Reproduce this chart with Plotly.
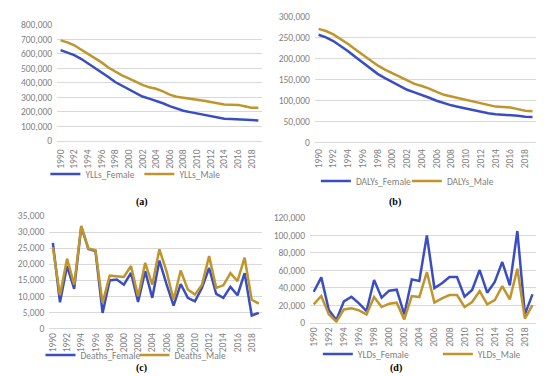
import plotly.graph_objects as go

years = list(range(1990, 2020))
even_years = [y for y in years if y % 2 == 0]

ylls_female = [625000, 610000, 590000, 565000, 535000, 505000, 472000, 440000, 405000, 380000,
               355000, 330000, 305000, 290000, 275000, 258000, 238000, 220000, 207000, 197000,
               188000, 180000, 168000, 158000, 152000, 150000, 148000, 145000, 140000, 140000]
ylls_male = [692000, 678000, 658000, 630000, 600000, 570000, 540000, 505000, 475000, 450000,
             430000, 405000, 385000, 368000, 358000, 340000, 318000, 303000, 298000, 290000,
             283000, 275000, 265000, 257000, 250000, 248000, 247000, 238000, 228000, 228000]

dalys_female = [256000, 250000, 241000, 230000, 217000, 203000, 190000, 176000, 163000, 153000,
                143000, 133000, 125000, 119000, 113000, 106000, 99000, 93000, 88000, 84000,
                80000, 76000, 72000, 69000, 67000, 66000, 65000, 63000, 61000, 60000]
dalys_male = [270000, 265000, 257000, 246000, 234000, 221000, 208000, 195000, 183000, 173000,
              164000, 155000, 146000, 139000, 134000, 128000, 120000, 113000, 109000, 105000,
              101000, 97000, 93000, 89000, 85000, 84000, 83000, 79000, 75000, 74000]

deaths_female = [26600, 8100, 19400, 12300, 31700, 24700, 24100, 4800, 14900, 15200,
                 13600, 17300, 8200, 17800, 9500, 21100, 13800, 7100, 13800, 9500,
                 8400, 12600, 18800, 10700, 9500, 12900, 10300, 17200, 4000, 4800]
deaths_male = [25300, 10300, 21700, 13600, 31900, 24900, 24300, 7900, 16400, 16200,
               16000, 19400, 10000, 20400, 13600, 24600, 17800, 8900, 18000, 12100,
               10500, 13600, 22500, 12600, 13400, 17200, 14700, 22000, 8900, 7700]

ylds_female = [35400, 51800, 14500, 3000, 24400, 29700, 22100, 13300, 48800, 28600,
               36600, 37700, 9500, 49500, 47600, 99800, 39600, 45000, 52200, 52200,
               29700, 37300, 60200, 34300, 46500, 69300, 42700, 104800, 9500, 32400]
ylds_male = [21000, 30500, 9500, 1100, 15200, 16400, 14100, 9500, 29300, 17900,
             21700, 22900, 3800, 30500, 29300, 57900, 22900, 27800, 31600, 31600,
             17900, 23600, 36200, 21000, 25900, 41900, 26700, 61700, 4600, 20200]

panels = [
    ("YLLs", ylls_female, ylls_male, 800000, 100000, "(a)"),
    ("DALYs", dalys_female, dalys_male, 300000, 50000, "(b)"),
    ("Deaths", deaths_female, deaths_male, 35000, 5000, "(c)"),
    ("YLDs", ylds_female, ylds_male, 120000, 20000, "(d)"),
]

W, H = 550, 376
# plot areas in pixels: (left, right, top, bottom)
boxes = [(50, 258, 16.7, 132.7), (312, 537, 8.3, 134.3), (42, 258.6, 208, 320.3), (307, 537, 209.7, 314.7)]
legend_pos = [(38, 166), (313, 173), (33, 347), (315, 346)]
label_pos = [(128, 194), (402, 194), (128, 368), (403, 368)]
entry_w = [49, 46, 49, 75]
standoff = [4, 2, 0, 0]

BLUE = "#3A4EC2"
GOLD = "#BF952C"
GRAY = "#7F7F7F"
FONT = "Carlito, Liberation Sans, Arial"

fig = go.Figure()
for i, (name, fem, mal, ymax, dt, lab) in enumerate(panels):
    k = "" if i == 0 else str(i + 1)
    leg = "legend" if i == 0 else f"legend{i + 1}"
    fig.add_trace(go.Scatter(x=years, y=fem, mode="lines", name=f"{name}_Female",
                             line=dict(color=BLUE, width=2.5), xaxis=f"x{k}", yaxis=f"y{k}",
                             legend=leg))
    fig.add_trace(go.Scatter(x=years, y=mal, mode="lines", name=f"{name}_Male",
                             line=dict(color=GOLD, width=2.5), xaxis=f"x{k}", yaxis=f"y{k}",
                             legend=leg))
    l, r, t, b = boxes[i]
    fig.layout[f"xaxis{k}"] = dict(domain=[l / W, r / W], range=[1989.5, 2019.5],
                                   tickvals=even_years, ticktext=[str(y) for y in even_years],
                                   tickangle=-90, showgrid=False, zeroline=False,
                                   showline=True, linecolor="#D9D9D9", linewidth=1,
                                   ticks="", ticklabelstandoff=standoff[i],
                                   tickfont=dict(size=9.5, color=GRAY, family=FONT),
                                   anchor=f"y{k}", fixedrange=True, automargin=False)
    fig.layout[f"yaxis{k}"] = dict(domain=[1 - b / H, 1 - t / H], range=[0, ymax], dtick=dt,
                                   tickformat=",d", showgrid=True, gridcolor="#D9D9D9",
                                   gridwidth=1, zeroline=False, showline=False, ticks="",
                                   ticklabelstandoff=4,
                                   tickfont=dict(size=9.5, color=GRAY, family=FONT),
                                   anchor=f"x{k}", fixedrange=True, automargin=False)
    lx, ly = legend_pos[i]
    fig.layout[leg] = dict(x=lx / W, y=1 - ly / H, xanchor="left", yanchor="middle",
                           orientation="h", font=dict(size=9.5, color=GRAY, family=FONT),
                           bgcolor="rgba(0,0,0,0)", entrywidth=entry_w[i],
                           entrywidthmode="pixels", itemwidth=30, tracegroupgap=0)
    px_, py_ = label_pos[i]
    fig.add_annotation(x=px_ / W, y=1 - py_ / H, xref="paper", yref="paper", text=f"<b>{lab}</b>",
                       showarrow=False, font=dict(size=10, color="#000000",
                                                  family="Liberation Serif, Times New Roman"))

fig.update_layout(width=W, height=H, autosize=False, margin=dict(l=0, r=0, t=0, b=0),
                  paper_bgcolor="white", plot_bgcolor="white", showlegend=True)

fig.write_html("out.html")
